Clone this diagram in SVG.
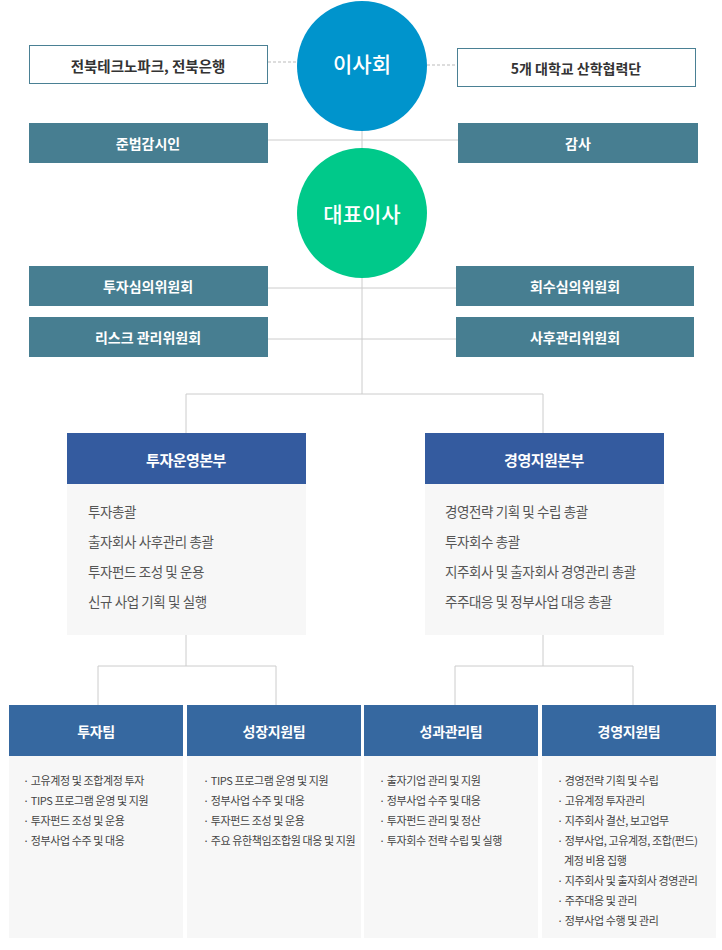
<svg xmlns="http://www.w3.org/2000/svg" width="722" height="950" viewBox="0 0 722 950">
<style>
text{font-family:"Noto Sans CJK KR","Noto Sans",sans-serif;dominant-baseline:central}
.ln{stroke:#cccccc;stroke-width:1;fill:none}
.dash{stroke:#bbbbbb;stroke-width:1;stroke-dasharray:3 2;fill:none}
.wbox{fill:#ffffff;stroke:#4a8094;stroke-width:1}
.tbox{fill:#477e91}
.tl{fill:#ffffff;font-size:14px;font-weight:700;text-anchor:middle}
.dl{fill:#333333;font-size:14.5px;font-weight:700;text-anchor:middle}
.circ{fill:#ffffff;font-size:21px;font-weight:500;text-anchor:middle}
.hqh{fill:#345b9f}
.tmh{fill:#3668a0}
.body{fill:#f7f7f7}
.hql{fill:#ffffff;font-size:15px;font-weight:700;text-anchor:middle;letter-spacing:-0.5px}
.tml{fill:#ffffff;font-size:14px;font-weight:700;text-anchor:middle;letter-spacing:-0.3px}
.bt{fill:#555555;font-size:13.5px;letter-spacing:-0.4px}
.bl{fill:#444444;font-size:11px;letter-spacing:-0.4px}
</style>
<g id="connectors">
<line class="dash" x1="268" y1="62" x2="297" y2="62"/>
<line class="dash" x1="427" y1="65" x2="457" y2="65"/>
<line class="ln" x1="362" y1="131" x2="362" y2="148"/>
<line class="ln" x1="268" y1="140" x2="458" y2="140"/>
<line class="ln" x1="362" y1="278" x2="362" y2="394"/>
<line class="ln" x1="268" y1="288" x2="456" y2="288"/>
<line class="ln" x1="268" y1="339" x2="456" y2="339"/>
<polyline class="ln" points="186,433 186,394 543,394 543,433"/>
<line class="ln" x1="186" y1="635" x2="186" y2="666"/>
<polyline class="ln" points="98,705 98,666 276,666 276,705"/>
<line class="ln" x1="543" y1="635" x2="543" y2="666"/>
<polyline class="ln" points="455,705 455,666 633,666 633,705"/>
</g>
<g id="board">
<circle cx="362" cy="66" r="65" fill="#0094cc"/>
<text class="circ" x="362" y="63">이사회</text>
</g>
<g id="jbtp">
<rect class="wbox" x="29.5" y="45.5" width="238" height="38"/>
<text class="dl" x="148" y="65">전북테크노파크, 전북은행</text>
</g>
<g id="univ">
<rect class="wbox" x="457.5" y="48.5" width="238" height="38"/>
<text class="dl" x="576" y="68" style="font-size:14px">5개 대학교 산학협력단</text>
</g>
<g id="compliance">
<rect class="tbox" x="29" y="123" width="239" height="40"/>
<text class="tl" x="148" y="143">준법감시인</text>
</g>
<g id="audit">
<rect class="tbox" x="458" y="123" width="240" height="40"/>
<text class="tl" x="578" y="143">감사</text>
</g>
<g id="ceo">
<circle cx="362" cy="213" r="65" fill="#00c98a"/>
<text class="circ" x="362" y="213">대표이사</text>
</g>
<g id="invest-committee">
<rect class="tbox" x="29" y="266" width="239" height="40"/>
<text class="tl" x="148" y="286">투자심의위원회</text>
</g>
<g id="risk-committee">
<rect class="tbox" x="29" y="317" width="239" height="40"/>
<text class="tl" x="148" y="337">리스크 관리위원회</text>
</g>
<g id="recovery-committee">
<rect class="tbox" x="456" y="266" width="238" height="40"/>
<text class="tl" x="575" y="286">회수심의위원회</text>
</g>
<g id="post-committee">
<rect class="tbox" x="456" y="317" width="238" height="40"/>
<text class="tl" x="575" y="337">사후관리위원회</text>
</g>
<g id="invest-hq">
<rect class="hqh" x="67" y="433" width="239" height="51"/>
<text class="hql" x="186" y="459">투자운영본부</text>
<rect class="body" x="67" y="484" width="239" height="151"/>
<text class="bt" x="88" y="511">투자총괄</text>
<text class="bt" x="88" y="541">출자회사 사후관리 총괄</text>
<text class="bt" x="88" y="571">투자펀드 조성 및 운용</text>
<text class="bt" x="88" y="601">신규 사업 기획 및 실행</text>
</g>
<g id="mgmt-hq">
<rect class="hqh" x="425" y="433" width="239" height="51"/>
<text class="hql" x="544" y="459">경영지원본부</text>
<rect class="body" x="425" y="484" width="239" height="151"/>
<text class="bt" x="445" y="511">경영전략 기획 및 수립 총괄</text>
<text class="bt" x="445" y="541">투자회수 총괄</text>
<text class="bt" x="445" y="571">지주회사 및 출자회사 경영관리 총괄</text>
<text class="bt" x="445" y="601">주주대응 및 정부사업 대응 총괄</text>
</g>
<g id="invest-team">
<rect class="tmh" x="9" y="705" width="174" height="51"/>
<text class="tml" x="96" y="731">투자팀</text>
<rect class="body" x="9" y="756" width="174" height="182"/>
<text class="bl" x="23" y="780">· 고유계정 및 조합계정 투자</text>
<text class="bl" x="23" y="800">· TIPS 프로그램 운영 및 지원</text>
<text class="bl" x="23" y="820">· 투자펀드 조성 및 운용</text>
<text class="bl" x="23" y="840">· 정부사업 수주 및 대응</text>
</g>
<g id="growth-team">
<rect class="tmh" x="187" y="705" width="174" height="51"/>
<text class="tml" x="274" y="731">성장지원팀</text>
<rect class="body" x="187" y="756" width="174" height="182"/>
<text class="bl" x="203" y="780">· TIPS 프로그램 운영 및 지원</text>
<text class="bl" x="203" y="800">· 정부사업 수주 및 대응</text>
<text class="bl" x="203" y="820">· 투자펀드 조성 및 운용</text>
<text class="bl" x="203" y="840">· 주요 유한책임조합원 대응 및 지원</text>
</g>
<g id="perf-team">
<rect class="tmh" x="364" y="705" width="174" height="51"/>
<text class="tml" x="451" y="731">성과관리팀</text>
<rect class="body" x="364" y="756" width="174" height="182"/>
<text class="bl" x="379" y="780">· 출자기업 관리 및 지원</text>
<text class="bl" x="379" y="800">· 정부사업 수주 및 대응</text>
<text class="bl" x="379" y="820">· 투자펀드 관리 및 정산</text>
<text class="bl" x="379" y="840">· 투자회수 전략 수립 및 실행</text>
</g>
<g id="mgmt-team">
<rect class="tmh" x="542" y="705" width="174" height="51"/>
<text class="tml" x="629" y="731">경영지원팀</text>
<rect class="body" x="542" y="756" width="174" height="182"/>
<text class="bl" x="557" y="780">· 경영전략 기획 및 수립</text>
<text class="bl" x="557" y="800">· 고유계정 투자관리</text>
<text class="bl" x="557" y="820">· 지주회사 결산, 보고업무</text>
<text class="bl" x="557" y="840">· 정부사업, 고유계정, 조합(펀드)</text>
<text class="bl" x="564" y="860">계정 비용 집행</text>
<text class="bl" x="557" y="880">· 지주회사 및 출자회사 경영관리</text>
<text class="bl" x="557" y="900">· 주주대응 및 관리</text>
<text class="bl" x="557" y="920">· 정부사업 수행 및 관리</text>
</g>
</svg>
